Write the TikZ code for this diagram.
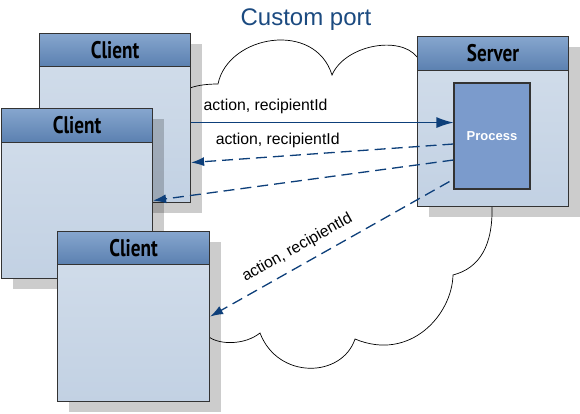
\documentclass[tikz,border=0pt]{standalone}
\usepackage{fontspec}
\usepackage{graphicx}
\setmainfont{Liberation Sans}
\newfontfamily\headfont{PT Sans}
\usetikzlibrary{shadows,arrows.meta}

\definecolor{headtop}{HTML}{86A6CE}
\definecolor{headbot}{HTML}{5B80B0}
\definecolor{bodytop}{HTML}{D3DEEB}
\definecolor{bodybot}{HTML}{C2D1E3}
\definecolor{procfill}{HTML}{7B9BCC}
\definecolor{msgblue}{HTML}{0D3F7A}
\definecolor{titleblue}{HTML}{1B4A80}
\definecolor{edgegray}{HTML}{333333}

\newcommand{\headlabel}[1]{\scalebox{0.8}[1]{#1}}

\tikzset{
  classbody/.style={draw=edgegray, line width=1.1pt, top color=bodytop, bottom color=bodybot,
    inner sep=0pt, anchor=north west,
    drop shadow={shadow xshift=11pt, shadow yshift=-10pt, fill=black, opacity=0.2}},
  classhead/.style={draw=edgegray, line width=1.1pt, top color=headtop, bottom color=headbot,
    inner sep=0pt, anchor=north west, font=\headfont\bfseries\fontsize{24}{24}\selectfont},
  procbox/.style={draw=edgegray, line width=1.1pt, fill=procfill, text=white, inner sep=0pt,
    font=\bfseries\fontsize{13}{13}\selectfont},
  cloudline/.style={draw=black, line width=0.7pt, fill=white},
  msg/.style={draw=msgblue, line width=1.3pt, -{Latex[length=17pt,width=11pt]}},
  reply/.style={draw=msgblue, line width=1.3pt, dash pattern=on 11pt off 6pt,
    -{Latex[length=13pt,width=9pt]}},
  lbl/.style={font=\fontsize{15.8}{16}\selectfont, text=black, inner ysep=8pt},
}

\begin{document}
\begin{tikzpicture}[x=1pt,y=-1pt]
   \useasboundingbox (0,0) rectangle (580,413);
   % cloud behind everything
   \draw[cloudline] (190,88) .. controls (198,85) and (208,84) .. (218,84)
      .. controls (228,35) and (315,20) .. (332,75)
      .. controls (345,45) and (400,35) .. (417,57)
      -- (492,120) -- (492,206)
      .. controls (493,245) and (480,268) .. (453,275)
      .. controls (452,315) and (410,362) .. (355,339)
      .. controls (342,378) and (278,380) .. (260,333)
      .. controls (245,345) and (220,345) .. (209,337)
      -- (180,337) -- (180,240) -- (140,240) -- (140,150) -- (180,150) -- cycle;
   \node[anchor=base, text=titleblue, font=\fontsize{24}{24}\selectfont] (title) at (306,25) {Custom port};

   % clients
   \node[classbody, minimum width=151pt, minimum height=169pt] (client1) at (39,33) {};
   \node[classhead, minimum width=151pt, minimum height=33pt] (client1head) at (client1.north west) {\headlabel{Client}};
   \node[classbody, minimum width=151pt, minimum height=170pt] (client2) at (1,108) {};
   \node[classhead, minimum width=151pt, minimum height=34pt] (client2head) at (client2.north west) {\headlabel{Client}};
   \node[classbody, minimum width=152pt, minimum height=170pt] (client3) at (57,231) {};
   \node[classhead, minimum width=152pt, minimum height=33pt] (client3head) at (client3.north west) {\headlabel{Client}};

   % server
   \node[classbody, minimum width=151pt, minimum height=170pt] (server) at (417,36) {};
   \node[classhead, minimum width=151pt, minimum height=34pt] (serverhead) at (server.north west) {\headlabel{Server}};
   \node[procbox, minimum width=76pt, minimum height=106pt] (process) at (492,136) {Process};

   % messages
   \draw[msg] ([yshift=-4.5pt]client1.east) -- ([yshift=-4.5pt]client1.east -| process.west)
      node[lbl, pos=0.284, above] {action, recipientId};
   \draw[reply] ([yshift=-8pt]process.west) -- ([yshift=-44.5pt]client1.east)
      node[lbl, pos=0.67, above] {action, recipientId};
   \draw[reply] ([yshift=-24pt]process.west) -- ([yshift=-7pt]client2.east);
   \draw[reply] ([shift={(-4pt,8pt)}]process.south west) -- (client3.east)
      node[lbl, pos=0.6, sloped, above, inner ysep=9pt] {action, recipientId};
\end{tikzpicture}
\end{document}
